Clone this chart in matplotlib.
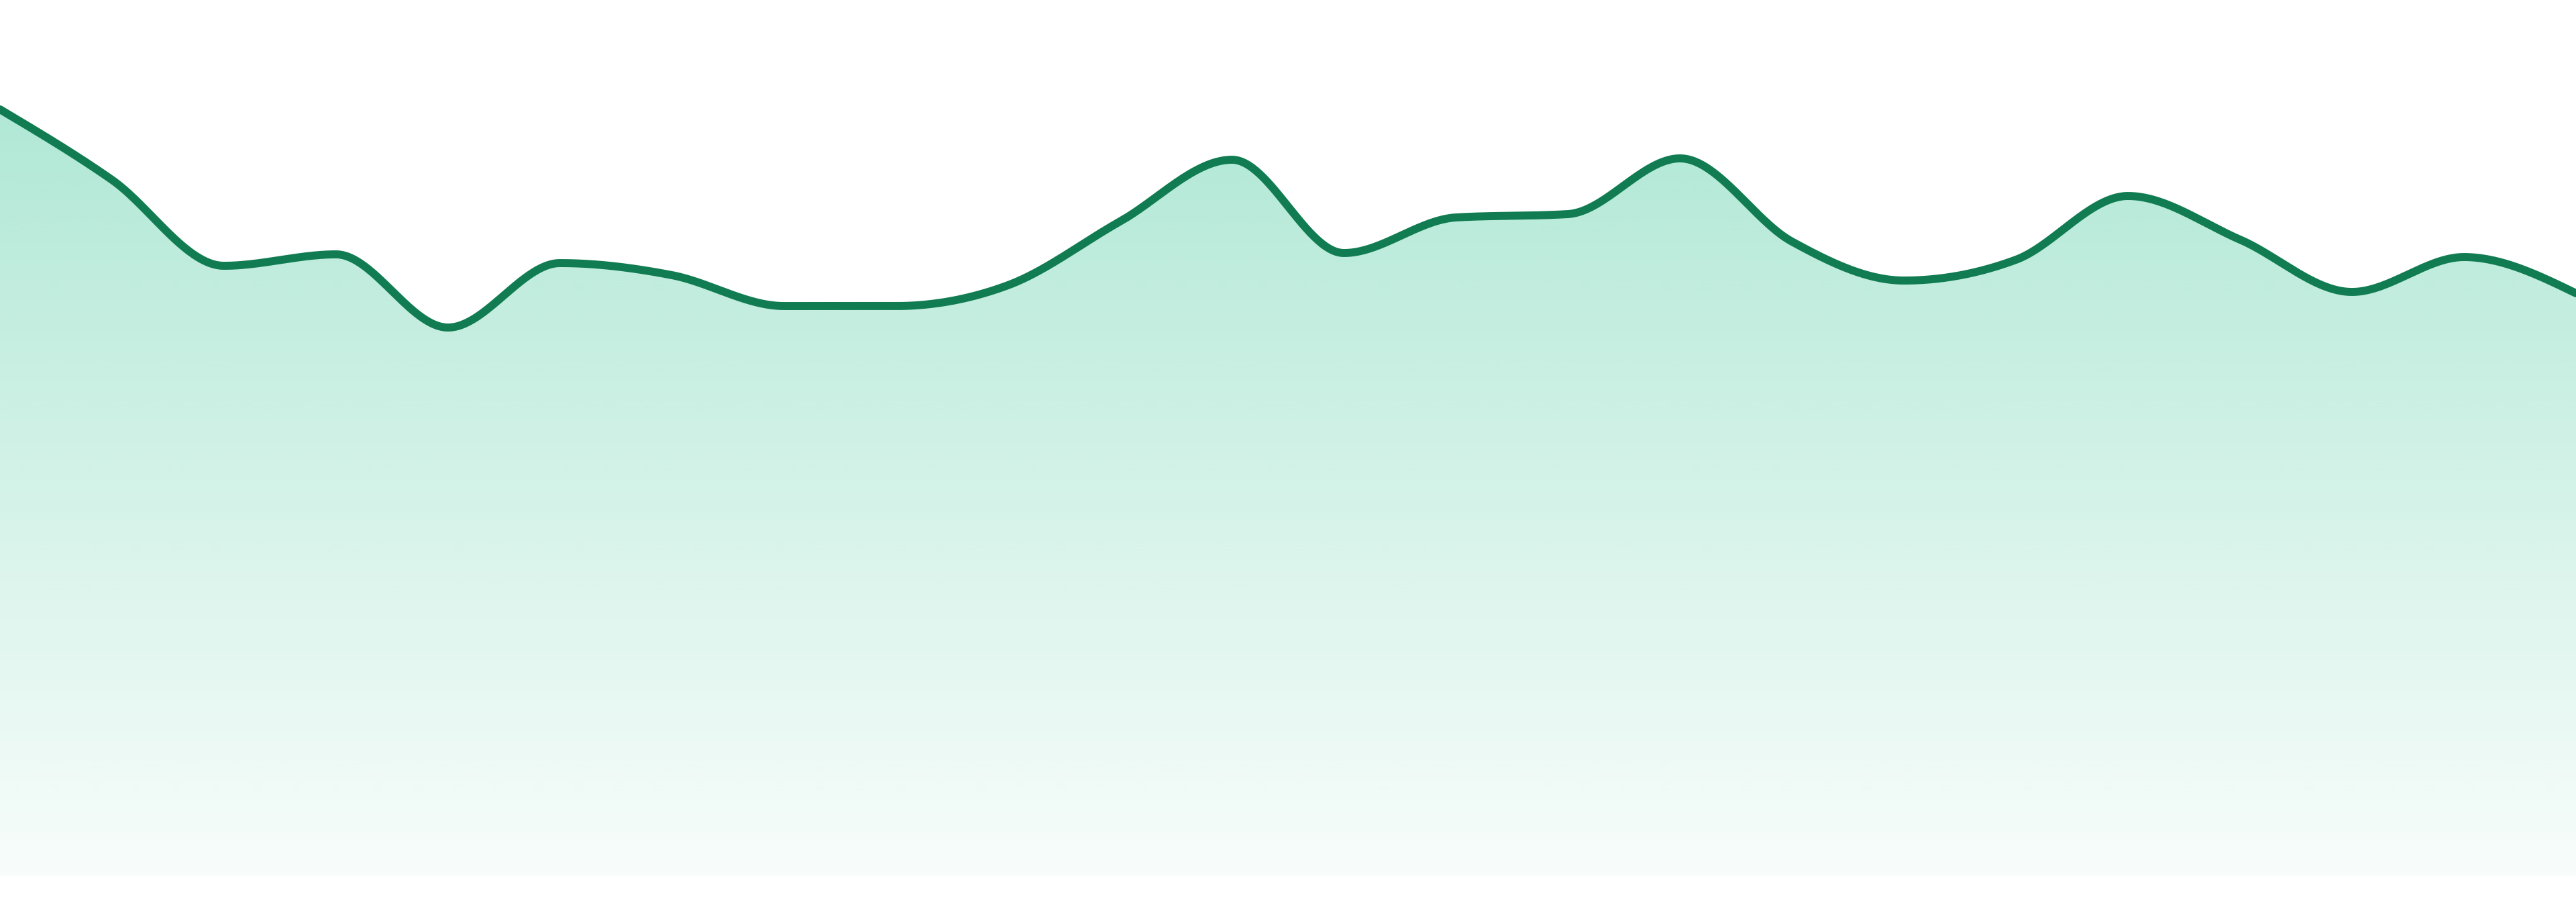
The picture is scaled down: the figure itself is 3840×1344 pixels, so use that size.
import numpy as np
import matplotlib
matplotlib.use('Agg')
import matplotlib.pyplot as plt
from matplotlib.colors import to_rgb

# valores de la serie (una muestra por periodo)
periods = list(range(24))
values = [114.2, 103.7, 90.9, 92.6, 81.7, 91.3, 89.5, 84.9, 84.9, 88.0, 97.5, 106.7,
          92.8, 98.1, 98.6, 106.9, 94.5, 88.7, 91.8, 101.3, 94.8, 87.0, 92.2, 86.8]

line_color = '#117c52'
fill_color = '#10b981'


def monotone_x(x, y, n=60):
    # curva monotona tipo d3.curveMonotoneX
    x = np.asarray(x, float)
    y = np.asarray(y, float)
    h = np.diff(x)
    s = np.diff(y) / h
    t = np.zeros_like(y)
    for i in range(1, len(y) - 1):
        p = (s[i - 1] * h[i] + s[i] * h[i - 1]) / (h[i - 1] + h[i])
        t[i] = (np.sign(s[i - 1]) + np.sign(s[i])) * min(abs(s[i - 1]), abs(s[i]), 0.5 * abs(p))
    t[0] = (3 * s[0] - t[1]) / 2
    t[-1] = (3 * s[-1] - t[-2]) / 2
    xs, ys = [], []
    for i in range(len(x) - 1):
        u = np.linspace(0, 1, n, endpoint=False)
        h00 = 2 * u**3 - 3 * u**2 + 1
        h10 = u**3 - 2 * u**2 + u
        h01 = -2 * u**3 + 3 * u**2
        h11 = u**3 - u**2
        xs.append(x[i] + u * h[i])
        ys.append(h00 * y[i] + h10 * h[i] * t[i] + h01 * y[i + 1] + h11 * h[i] * t[i + 1])
    xs.append([x[-1]])
    ys.append([y[-1]])
    return np.concatenate(xs), np.concatenate(ys)


xs, ys = monotone_x(periods, values)

fig = plt.figure(figsize=(38.4, 13.44), dpi=100)
ax = fig.add_axes([0, 0.029, 1, 0.971])
ax.set_xlim(periods[0], periods[-1])
ax.set_ylim(0, 130.5)
ax.axis('off')

# relleno con degradado vertical
top = max(values)
rgb = to_rgb(fill_color)
alpha = np.linspace(0.33, 0.03, 256)
grad = np.zeros((256, 1, 4))
grad[:, 0, :3] = rgb
grad[:, 0, 3] = alpha
poly = ax.fill_between(xs, ys, 0, color='none', lw=0)
img = ax.imshow(grad, extent=[periods[0], periods[-1], 0, top], aspect='auto',
                origin='upper', interpolation='bilinear', zorder=1)
path = poly.get_paths()[0]
img.set_clip_path(path, transform=ax.transData)

ax.plot(xs, ys, color=line_color, lw=8.6, solid_capstyle='round', zorder=3)

fig.savefig('out.png', dpi=100)
